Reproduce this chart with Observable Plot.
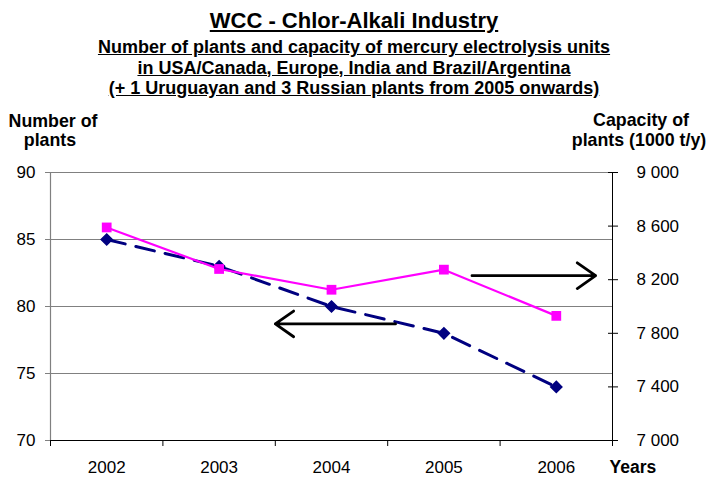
<!DOCTYPE html>
<html>
<head>
<meta charset="utf-8">
<script src="https://cdn.jsdelivr.net/npm/d3@7"></script>
<script src="https://cdn.jsdelivr.net/npm/@observablehq/plot@0.6"></script>
<style>
  html, body { margin: 0; padding: 0; background: #fff; }
  body { width: 708px; height: 477px; position: relative; overflow: hidden; font-family: "Liberation Sans", Arial, sans-serif; }
  .t { position: absolute; left: 0; width: 708px; text-align: center; font-weight: bold; text-decoration: underline; color: #000; white-space: nowrap; line-height: 1.12; }
  #title { top: 9px; font-size: 22px; }
  .sub { font-size: 18px; }
  #s1 { top: 37px; } #s2 { top: 57.5px; } #s3 { top: 78px; }
  #chart { position: absolute; left: 0; top: 100px; }
</style>
</head>
<body>
<div class="t" id="title">WCC - Chlor-Alkali Industry</div>
<div class="t sub" id="s1">Number of plants and capacity of mercury electrolysis units</div>
<div class="t sub" id="s2">in USA/Canada, Europe, India and Brazil/Argentina</div>
<div class="t sub" id="s3">(+ 1 Uruguayan and 3 Russian plants from 2005 onwards)</div>
<div id="chart"></div>
<script>
const years = [2002, 2003, 2004, 2005, 2006];
const plants = [85, 83, 80, 78, 74];
const capacity = [8590, 8280, 8125, 8275, 7930];
const leftTicks = [70, 75, 80, 85, 90];
const rightTicks = [7000, 7400, 7800, 8200, 8600, 9000];
const arrowsData = [
  {x1: 2004.57, x2: 2003.5, y: 78.7},   // points to left axis
  {x1: 2005.25, x2: 2006.35, y: 82.3}   // points to right axis
];

// capacity (1000 t/y) mapped onto the left scale: 7000..9000 -> 70..90
const capToY = c => 70 + (c - 7000) / 100;
const yToCap = v => Math.round(7000 + (v - 70) * 100);
const fmtCap = c => d3.format(",")(c).replace(",", " ");

const plantsData = years.map((y, i) => ({year: y, v: plants[i]}));
const capData = years.map((y, i) => ({year: y, v: capToY(capacity[i])}));
const bounds = d3.range(years.length + 1).map(i => years[0] - 0.5 + i);

const font = "Liberation Sans, Arial, sans-serif";

const chart = Plot.plot({
  width: 708,
  height: 377,
  marginTop: 72,
  marginBottom: 37,
  marginLeft: 50,
  marginRight: 96,
  style: {fontFamily: font, fontSize: "17px", color: "#000", background: "#fff", overflow: "visible"},
  x: {domain: [years[0] - 0.5, years[years.length - 1] + 0.5]},
  y: {domain: [70, 90]},
  marks: [
    Plot.ruleY(leftTicks.filter(t => t > 70), {stroke: "#808080", strokeWidth: 1}),
    Plot.ruleX([bounds[0]], {stroke: "#808080", strokeWidth: 1.2}),
    Plot.ruleX([bounds[bounds.length - 1]], {stroke: "#000", strokeWidth: 1}),
    Plot.ruleY([70], {stroke: "#000", strokeWidth: 1}),
    Plot.axisY(leftTicks, {anchor: "left", tickSize: 5, tickPadding: 10, label: null, stroke: "#808080", fontSize: 17}),
    Plot.axisY(rightTicks.map(capToY), {anchor: "right", tickSize: 5, tickPadding: 19, label: null, tickFormat: v => fmtCap(yToCap(v)), fontSize: 17}),
    Plot.axisY(rightTicks.map(capToY), {anchor: "right", tickSize: -5, tickPadding: 0, label: null, tickFormat: () => ""}),
    Plot.axisX(bounds, {anchor: "bottom", tickSize: 6, tickFormat: () => "", label: null}),
    Plot.axisX(years, {anchor: "bottom", tickSize: 0, tickPadding: 20, tickFormat: d => String(d), label: null, fontSize: 17}),
    Plot.line(plantsData, {x: "year", y: "v", stroke: "#000080", strokeWidth: 3, strokeDasharray: "19,11"}),
    Plot.dot(plantsData, {x: "year", y: "v", symbol: "diamond2", r: 5, fill: "#000080", stroke: "#000080"}),
    Plot.line(capData, {x: "year", y: "v", stroke: "#ff00ff", strokeWidth: 2.2}),
    Plot.dot(capData, {x: "year", y: "v", symbol: "square", r: 5.5, fill: "#ff00ff", stroke: "none"}),
    Plot.arrow(arrowsData, {x1: "x1", x2: "x2", y1: "y", y2: "y", stroke: "#000", strokeWidth: 2.8, headLength: 12, headAngle: 70}),
    Plot.text(["Years"], {frameAnchor: "bottom-right", text: d => d, textAnchor: "start", dx: -3, dy: 32, fontWeight: "bold", fontSize: 17.5})
  ]
});
document.getElementById("chart").appendChild(chart);

// Axis titles placed in the top margin of the SVG
const svg = d3.select(chart);
const addLabel = (txt, x, y) => svg.append("text").attr("x", x).attr("y", y)
  .attr("text-anchor", "middle").attr("font-weight", "bold").attr("font-size", 17.8)
  .attr("font-family", font).attr("fill", "#000").text(txt);
addLabel("Number of", 53, 27);
addLabel("plants", 50, 46);
addLabel("Capacity of", 641, 26);
addLabel("plants (1000 t/y)", 639, 46);
</script>
</body>
</html>
